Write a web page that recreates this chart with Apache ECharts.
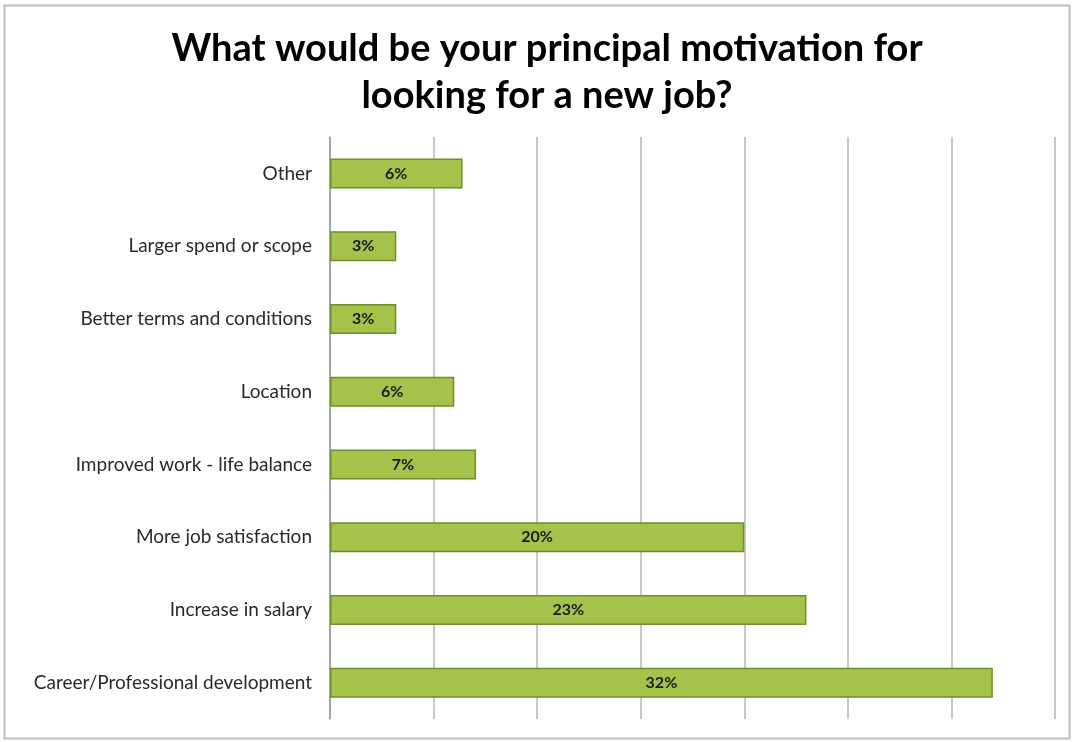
<!DOCTYPE html>
<html>
<head>
<meta charset="utf-8">
<script src="https://cdn.jsdelivr.net/npm/echarts@6/dist/echarts.min.js"></script>
<style>
    html, body { margin: 0; padding: 0; background: #fff; }
    #chart { width: 1075px; height: 742px; }
</style>
</head>
<body>
<div id="chart"></div>
<script>
    // categories, bottom to top
    var categories = [
        'Career/Professional development',
        'Increase in salary',
        'More job satisfaction',
        'Improved work - life balance',
        'Location',
        'Better terms and conditions',
        'Larger spend or scope',
        'Other'
    ];
    // percentages
    var values = [32.0, 23.0, 20.0, 7.05, 6.0, 3.2, 3.2, 6.4];
    // labels printed inside the bars
    var barLabels = ['32%', '23%', '20%', '7%', '6%', '3%', '3%', '6%'];

    var chart = echarts.init(document.getElementById('chart'));

    var option = {
        backgroundColor: '#fff',
        animation: false,
        title: {
            text: 'What would be your principal motivation for\nlooking for a new job?',
            left: 542,
            textAlign: 'center',
            top: 20,
            textStyle: {
                fontFamily: 'Lato',
                fontWeight: 'bold',
                fontSize: 38,
                lineHeight: 47,
                color: '#000'
            }
        },
        graphic: [{
            type: 'rect',
            shape: { x: 4.5, y: 5.5, width: 1065, height: 733 },
            style: { fill: 'none', stroke: '#bdbdbd', lineWidth: 2 },
            silent: true
        }],
        grid: {
            left: 330,
            right: 20,
            top: 137,
            bottom: 23
        },
        xAxis: {
            type: 'value',
            min: 0,
            max: 35,
            interval: 5,
            axisLine: { show: false },
            axisTick: { show: false },
            axisLabel: { show: false },
            splitLine: { lineStyle: { color: '#c8c8c8', width: 2 } }
        },
        yAxis: {
            type: 'category',
            data: categories,
            axisLine: { lineStyle: { color: '#9a9a9a', width: 1.5 } },
            axisTick: { length: 5, lineStyle: { color: '#9a9a9a' } },
            axisLabel: {
                fontFamily: 'Lato',
                fontSize: 19,
                color: '#2a2a2a',
                margin: 18,
                padding: [6, 0, 0, 0]
            }
        },
        series: [{
            type: 'bar',
            data: values,
            barWidth: 30,
            itemStyle: {
                color: '#a5c24b',
                borderColor: '#6f8f2c',
                borderWidth: 1.5
            },
            label: {
                show: true,
                position: 'inside',
                fontFamily: 'Lato',
                fontWeight: 'bold',
                fontSize: 16,
                color: '#1a1a1a',
                padding: [3, 0, 0, 0],
                formatter: function (p) {
                    return barLabels[p.dataIndex];
                }
            }
        }]
    };

    chart.setOption(option);
</script>
</body>
</html>
